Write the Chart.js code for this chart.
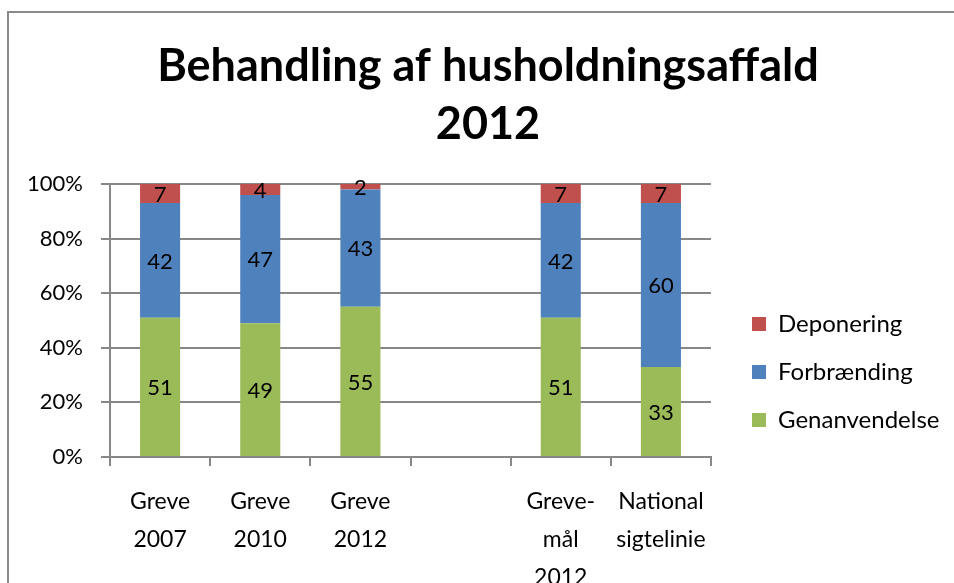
<!DOCTYPE html>
<html>
<head>
<meta charset="utf-8">
<script src="https://cdn.jsdelivr.net/npm/chart.js@4/dist/chart.umd.min.js"></script>
<style>
  html, body { margin: 0; padding: 0; background: #fff; overflow: hidden; width: 954px; height: 583px; }
  #frame { position: absolute; left: 7px; top: 11px; width: 1200px; height: 800px; border-left: 2px solid #8a8a8a; border-top: 2px solid #8a8a8a; }
  #wrap { position: absolute; left: 0; top: 0; width: 976px; height: 600px; }
</style>
</head>
<body>
<div id="frame"></div>
<div id="wrap"><canvas id="chart"></canvas></div>
<script>
const CATEGORIES = [['Greve', '2007'], ['Greve', '2010'], ['Greve', '2012'], '', ['Greve-', 'mål', '2012'], ['National', 'sigtelinie']];
const GENANVENDELSE = [51, 49, 55, null, 51, 33];
const FORBRAENDING = [42, 47, 43, null, 42, 60];
const DEPONERING = [7, 4, 2, null, 7, 7];
const Y_TICKS = [0, 20, 40, 60, 80, 100];

const FONT = 'Lato, "Open Sans", sans-serif';
const GRID_COLOR = '#878787';

// values written in the middle of each bar segment
const segmentLabels = {
    id: 'segmentLabels',
    afterDatasetsDraw(chart) {
        const ctx = chart.ctx;
        ctx.save();
        ctx.font = '22px ' + FONT;
        ctx.fillStyle = '#000';
        ctx.textAlign = 'center';
        ctx.textBaseline = 'middle';
        chart.data.datasets.forEach((ds, i) => {
            chart.getDatasetMeta(i).data.forEach((bar, j) => {
                const v = ds.data[j];
                if (v == null) return;
                ctx.fillText(String(v), bar.x, (bar.y + bar.base) / 2 + 1);
            });
        });
        ctx.restore();
    }
};

// Excel centres title and legend on the whole chart, not on what is left after padding
const boxPlace = {
    id: 'boxPlace',
    afterLayout(chart) {
        const lg = chart.legend;
        if (lg) {
            lg.left = 728; lg.right = 970;
            lg.top = 250; lg.bottom = 494;
        }
        const t = chart.titleBlock;
        if (t) { t.left = 0; t.right = 976; }
    }
};

new Chart(document.getElementById('chart'), {
    type: 'bar',
    data: {
        labels: CATEGORIES,
        datasets: [
            { label: 'Genanvendelse', data: GENANVENDELSE, backgroundColor: '#9BBB59' },
            { label: 'Forbrænding', data: FORBRAENDING, backgroundColor: '#4F81BD' },
            { label: 'Deponering', data: DEPONERING, backgroundColor: '#C0504D' }
        ]
    },
    options: {
        responsive: true, maintainAspectRatio: false, animation: false,
        devicePixelRatio: 1,
        layout: { padding: { left: 0, right: 115, top: 0, bottom: 0 } },
        datasets: { bar: { categoryPercentage: 1, barPercentage: 0.4 } },
        plugins: {
            title: {
                display: true,
                text: ['Behandling af husholdningsaffald', '2012'],
                color: '#000',
                font: { family: FONT, size: 45, weight: 'bold', lineHeight: '58px' },
                padding: { top: 37, bottom: 31 }
            },
            legend: {
                position: 'right',
                reverse: true,
                maxWidth: 150,
                labels: {
                    boxWidth: 14, boxHeight: 14, padding: 24,
                    color: '#000',
                    font: { family: FONT, size: 24 }
                }
            },
            tooltip: { enabled: false }
        },
        scales: {
            x: {
                stacked: true,
                grid: { drawOnChartArea: false, drawTicks: true, tickLength: 9, color: GRID_COLOR, lineWidth: 2, offset: true },
                border: { color: GRID_COLOR, width: 2 },
                ticks: { color: '#000', font: { family: FONT, size: 23, lineHeight: '38px' }, padding: 17, maxRotation: 0, autoSkip: false },
                afterFit(scale) { scale.height = 143; }
            },
            y: {
                stacked: true,
                min: 0, max: 100,
                afterBuildTicks(scale) { scale.ticks = Y_TICKS.map(v => ({ value: v })); },
                grid: { color: GRID_COLOR, lineWidth: 2, tickLength: 9 },
                border: { color: GRID_COLOR, width: 2 },
                ticks: { color: '#000', font: { family: FONT, size: 22 }, padding: 18, callback: v => v + '%' },
                afterFit(scale) { scale.width = 110; }
            }
        }
    },
    plugins: [segmentLabels, boxPlace]
});
</script>
</body>
</html>
